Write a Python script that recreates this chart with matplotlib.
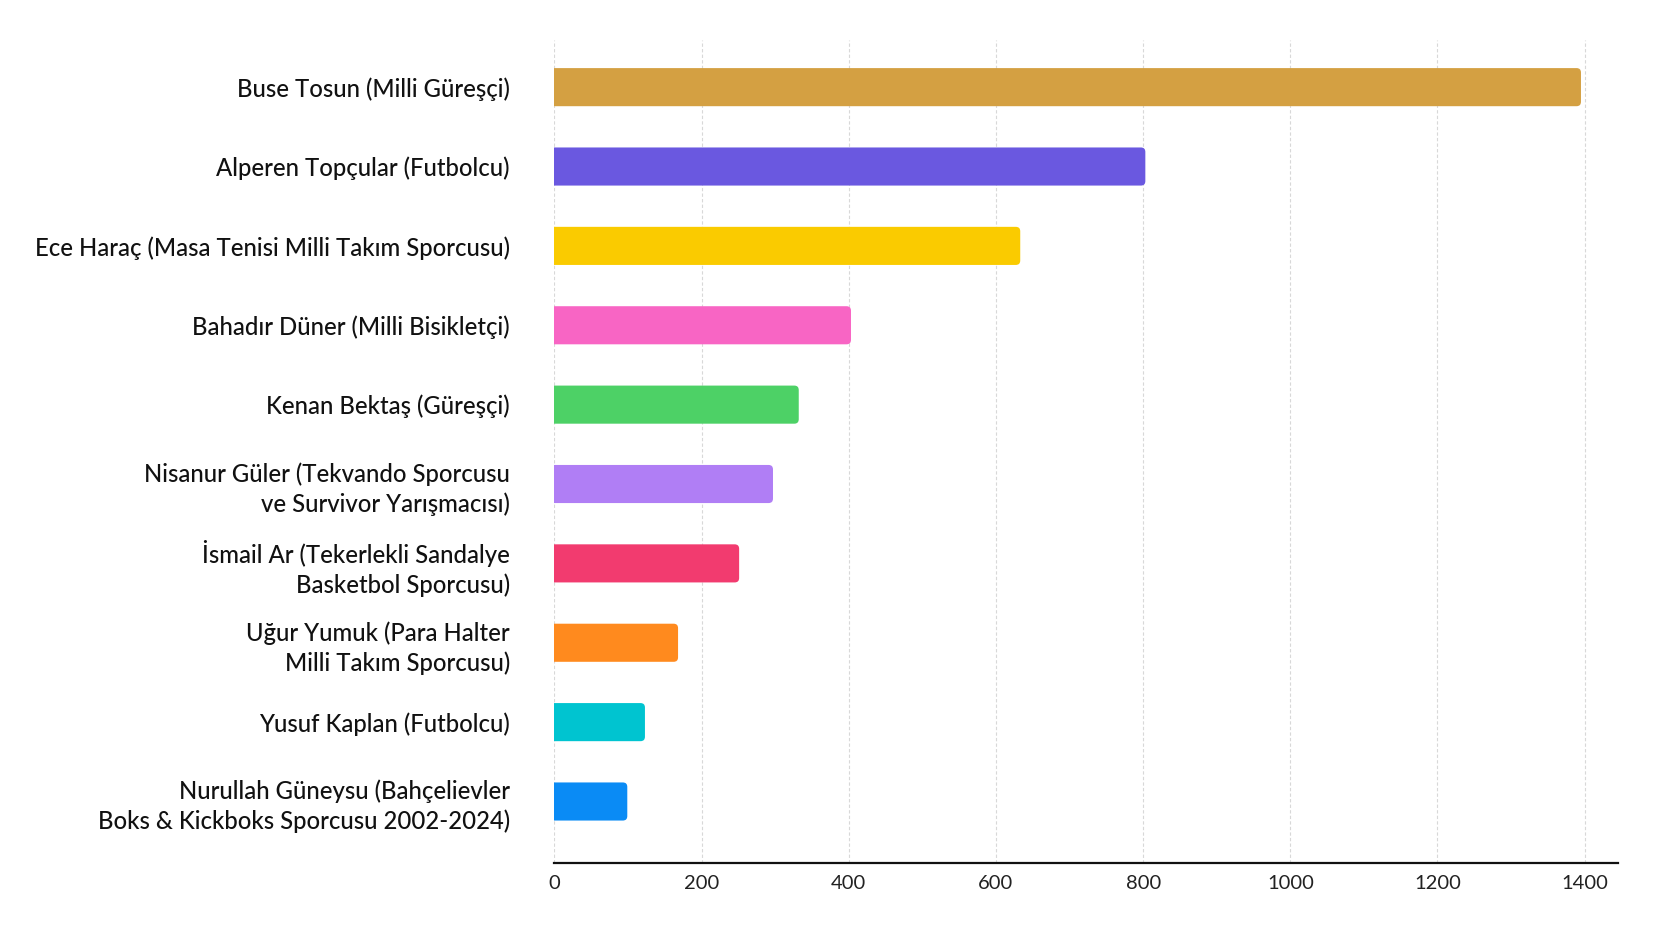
import matplotlib
matplotlib.use("Agg")
import matplotlib.pyplot as plt
from matplotlib.patches import FancyBboxPatch

plt.rcParams['font.family'] = ['Lato', 'DejaVu Sans']

labels = [
    "Buse Tosun (Milli Güreşçi)",
    "Alperen Topçular (Futbolcu)",
    "Ece Haraç (Masa Tenisi Milli Takım Sporcusu)",
    "Bahadır Düner (Milli Bisikletçi)",
    "Kenan Bektaş (Güreşçi)",
    "Nisanur Güler (Tekvando Sporcusu\nve Survivor Yarışmacısı)",
    "İsmail Ar (Tekerlekli Sandalye\nBasketbol Sporcusu)",
    "Uğur Yumuk (Para Halter\nMilli Takım Sporcusu)",
    "Yusuf Kaplan (Futbolcu)",
    "Nurullah Güneysu (Bahçelievler\nBoks & Kickboks Sporcusu 2002-2024)",
]
values = [1395, 803, 633, 403, 332, 297, 251, 168, 123, 99]
colors = ["#D4A042", "#6A58E0", "#FACB00", "#F865C4", "#4DD166",
          "#B07EF5", "#F23B6F", "#FF8A1E", "#00C4D0", "#0A8BF5"]
xticks = [0, 200, 400, 600, 800, 1000, 1200, 1400]

fig = plt.figure(figsize=(16.72, 9.41), dpi=100)
ax = fig.add_axes([0.3316, 0.0833, 0.6364, 0.8747])

ypos = list(range(len(labels)))
bars = ax.barh(ypos, values, height=0.48, color=colors, zorder=3)

ax.set_ylim(9.77, -0.6)
ax.set_xlim(0, 1446)

# swap the plain bars for ones with slightly rounded corners
r = 6
for b in bars:
    b.set_visible(False)
    p = FancyBboxPatch((b.get_x() - r, b.get_y()), b.get_width() + r, b.get_height(),
                       boxstyle=f"round,pad=0,rounding_size={r}",
                       mutation_aspect=0.0093, facecolor=b.get_facecolor(),
                       edgecolor="none", zorder=3)
    ax.add_patch(p)

ax.set_yticks(ypos)
ax.set_yticklabels(labels, fontsize=17.2, color="#111111", linespacing=1.32,
                   fontweight="medium")
ax.set_xticks(xticks)
ax.set_xticklabels([str(t) for t in xticks], fontsize=14.5, color="#222222")

ax.tick_params(axis="y", length=0, pad=32)
ax.tick_params(axis="x", length=0, pad=9)
for side in ["top", "right", "left"]:
    ax.spines[side].set_visible(False)
ax.spines["bottom"].set_color("#111111")
ax.spines["bottom"].set_linewidth(1.6)

ax.grid(axis="x", color="#d8d8d8", linestyle=(0, (3, 2)), linewidth=0.8, zorder=0)
ax.set_axisbelow(True)

fig.savefig("out.png", dpi=100, facecolor="white")
